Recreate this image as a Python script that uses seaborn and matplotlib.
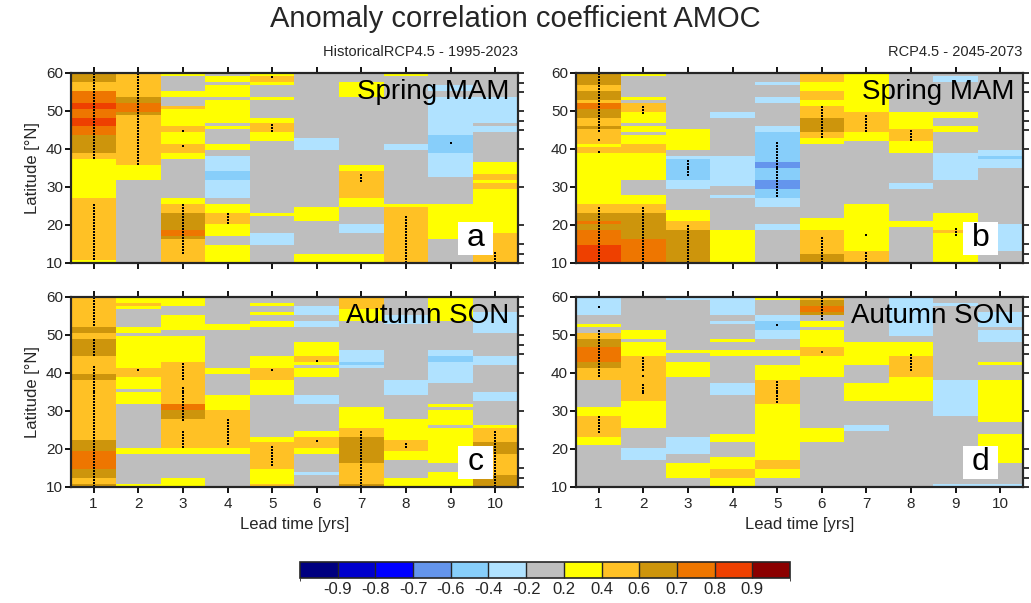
import numpy as np
import pandas as pd
import matplotlib
matplotlib.use("Agg")
import matplotlib.pyplot as plt
import seaborn as sns
from matplotlib.colors import ListedColormap, BoundaryNorm
from matplotlib.patches import Rectangle
import matplotlib.colorbar as mcolorbar

sns.set_style("white")
plt.rcParams["font.family"] = ["Liberation Sans", "DejaVu Sans"]

# ---------------- data ----------------
leads = [1, 2, 3, 4, 5, 6, 7, 8, 9, 10]
lat_ticks = [60, 50, 40, 30, 20, 10]
right_ticks = [60, 57.5, 55, 50, 47.5, 45, 40, 30, 20, 15, 12.5, 10]
cb_bounds = [-1.0, -0.9, -0.8, -0.7, -0.6, -0.4, -0.2, 0.2, 0.4, 0.6, 0.7, 0.8, 0.9, 1.0]
cb_labels = ["-0.9", "-0.8", "-0.7", "-0.6", "-0.4", "-0.2", "0.2", "0.4", "0.6", "0.7", "0.8", "0.9"]
cb_colors = ["#000080", "#0000CD", "#0000FF", "#6495ED", "#87CEFA", "#B0E2FF", "#BEBEBE",
             "#FFFF00", "#FFC125", "#CD950C", "#EE7600", "#EE4000", "#8B0000"]
# class code -> representative ACC value
class_values = {"c": -0.65, "l": -0.5, "p": -0.3, ".": 0.0, "y": 0.3,
                "o": 0.5, "d": 0.65, "r": 0.75, "R": 0.85}

# each column: tokens "<class><southern latitude>" from 60N southwards
spring_hist = [
    "d58 o55.5 r52.5 R50.5 r48.5 R46 r43.5 d39 o37.5 y32 .31.5 y27 o11 y10",
    "o54 d52 r49.5 d49 o35.5 y31.5 .10",
    "y59 .55.5 y54 .51.5 o50.5 y46 o44.5 y41 o39 y37.5 .27 y26 o23.5 d18.5 r17 d16 o10",
    ".59 y58 .56.5 y54 .53 y47 .46 y45 .41 y40 .38.5 p34 l31.5 p27 .25.5 y23 o20 y17 .15 y10",
    "y59 o58 y56.5 .54 y53 .48 y47 o44.5 y42 .23.5 y22.5 .17.5 p15 .10",
    ".43 p40 .25 y21 .12.5 y10",
    ".58 y54 .36 y34 o27 y24.5 .20 p17.5 .12.5 y10",
    "y59 .41 p40 .26 y24.5 o10",
    ".56.5 p55.5 .53.5 p43.5 l39 p33 .25.5 y16.5 .10",
    ".53.5 p47 .46 p44.5 .36.5 y33.5 o32 y31 o29.5 y17.5 o10",
]
spring_hist_sig = [
    [(60, 37.5), (25.5, 11)],
    [(60, 36.5)],
    [(44.6, 44.6), (40.6, 40.6), (25, 12.5)],
    [(22.7, 20.5)],
    [(58.5, 58.5), (46.7, 44.6)],
    [],
    [(33, 31.6)],
    [(21.8, 10.3)],
    [(41.5, 41.5)],
    [(13, 10.3)],
]

spring_rcp = [
    "d56.5 o55.5 d53 o52 r50.5 d48.5 o46 d45 o41 y40.5 o39 y26 o23 d21 r20 d18.5 r15 R10",
    "y59 .54 y53 .52 o49.5 y47 .46 y44.5 .43.5 y41 o39 y32 .28 y26 o23 d16 r10",
    ".45 y40 .38.5 p37.5 l32 p29.5 .24 y21 o18.5 d10",
    ".49.5 p48.5 .38.5 p30 .28 p27 .18.5 y10",
    ".58 p56.5 .54 p52 .46 p44.5 l36.5 c35 l32 c29.5 l27 p24.5 .20 p18.5 .10",
    "o58 y55.5 o53 y51.5 o48.5 d44.5 o42.5 y41 .22 y18.5 o12.5 d10",
    "y49.5 o44.5 y42 .26 y13 o10",
    ".49.5 y45 o42 y39 .31 p29.5 .21 y19 .10",
    ".59 p58 .49.5 y48.5 .46 y44.5 .39 p32 .23 y18.5 o17.5 y10",
    ".40 p38.5 l37.5 p35 .20 p13 .10",
]
spring_rcp_sig = [
    [(60, 44.5), (42.7, 42.7), (39.6, 39.6), (24.7, 10.4)],
    [(50.7, 49.3), (24.7, 10.4)],
    [(36.7, 33.4), (19.9, 10.4)],
    [],
    [(41.8, 27.6)],
    [(50.7, 43.3), (16.9, 10.4)],
    [(48.6, 44.5), (17.6, 17.6), (12.9, 10.4)],
    [(44.7, 42.4)],
    [(18.7, 17.6)],
    [],
]

autumn_hist = [
    "o52 d51 o49 d44.5 o40 d38 o22.5 d19.5 r14.5 d12 o11 d10",
    "y58.5 o58 y57 .52 y51 .49.5 y41 o39 y36 .35 y32 .20.5 y18.5 .11 y10",
    "y57.5 .55 y51.5 .50 y43 o31.5 r30 d28 o20 y18.5 .12 y10",
    ".53 y51.5 .41 y40 .34 y30 o20.5 y18.5 .10",
    ".58.5 y58 .56 y55 .54 y52 .44 y41 o38.5 y34 .23 y22 o14.5 y11 o10",
    ".57.5 p55 .54 p52 .48 y44 o43 y42 .41 y39 .34 p32 .25 y23.5 o20.5 y18.5 .14 p13 .10",
    "o57 y54 .46 p43 l42 p41 .31 y25.5 o23 d16 o11 d10",
    ".55.5 p53 .38 p34 .28 y22.5 o19.5 y17 .12.5 y10",
    "y54 .46 p44 l43 p37.5 .31.5 y31 .30 y26.5 .25.5 y16 .14 y10",
    ".56 p51 .50 p49.5 .44.5 p42 .35 p33 .26.5 y25.5 o22 d18.5 o13 d10",
]
autumn_hist_sig = [
    [(60, 52.5), (48.5, 44.5), (41.5, 10.3)],
    [(40.5, 40.5)],
    [(42.4, 38.2), (36.5, 27.5), (24.5, 20.2)],
    [(27.6, 21.1)],
    [(40.5, 40.5), (20.7, 16)],
    [(43.3, 43.3), (22.5, 22.5)],
    [(24.7, 10.3)],
    [(56.5, 54.5), (21.4, 20.2)],
    [],
    [(24.7, 10.3)],
]

autumn_rcp = [
    "p55.5 .53 y52 .51 o49 d47 r43 d41 o38.5 y38 .31 y29 o23 y21 .10",
    ".51.5 y49 .48 y44 o33 y26 .20.5 p17 .10",
    "p59 .46 y45 .43 y39 .23 p18.5 .16 y12 .10",
    "p55 .54 p53 .49 y48 .46 y44 .37 p34 .24 y22 .18 y14.5 o12 y10",
    "y59 .55 p54 l51.5 p49 .46 y44.5 .42 y38 o31.5 y17 o15 y12 .10",
    "o59 d58 r56 d55 .54 y52 .51.5 y47 o44.5 y39 .26 y22 .10",
    ".48 y42 .37 y33 .26.5 p25 .10",
    "p50 .48 y44.5 o39 y32.5 .10",
    ".58.5 p57.5 .38 p29 .10.5 p10",
    ".56 p52 .51.5 p48.5 .43 y42 .38.5 y27 .24 y16 .10.5 p10",
]
autumn_rcp_sig = [
    [(57.5, 57.5), (50.7, 39.1), (28.7, 24.3)],
    [(43.6, 41.2), (39.6, 39.6), (36.6, 34.4)],
    [],
    [],
    [(52.5, 52.5), (37.6, 32)],
    [(60, 54.2), (45.5, 45.5)],
    [],
    [(44.7, 41.2)],
    [],
    [],
]

titles = ["Spring MAM", "Spring MAM", "Autumn SON", "Autumn SON"]
letters = ["a", "b", "c", "d"]

# ---------------- grid helpers ----------------
NROW = 64
dlat = 50.0 / NROW
lat_c = 60.0 - (np.arange(NROW) + 0.5) * dlat


def expand(cols):
    grid = np.zeros((NROW, len(cols)))
    for j, s in enumerate(cols):
        prev = 60.0
        segs = []
        for tok in s.split():
            bot = float(tok[1:])
            segs.append((prev, bot, class_values[tok[0]]))
            prev = bot
        for i, c in enumerate(lat_c):
            for top, bot, v in segs:
                if bot <= c <= top:
                    grid[i, j] = v
                    break
    return pd.DataFrame(grid, index=np.round(lat_c, 2), columns=leads)


def sig_points(sig):
    xs, ys = [], []
    for j, ranges in enumerate(sig):
        for top, bot in ranges:
            sel = np.where((lat_c >= bot - dlat / 2) & (lat_c < top + dlat / 2))[0]
            for i in sel:
                xs.append(j + 0.5)
                ys.append(i + 0.5)
    return xs, ys


def lat_pos(lat):
    return (60.0 - np.asarray(lat, dtype=float)) / 50.0 * NROW


cmap = ListedColormap(cb_colors)
norm = BoundaryNorm(cb_bounds, cmap.N)

# ---------------- figure ----------------
W, H = 1031, 603
fig = plt.figure(figsize=(W / 100, H / 100), dpi=100)

pw, ph = 446.4, 190.0
lefts = [71.3, 576.3]
tops = [73.0, 297.0]
panels = [(spring_hist, spring_hist_sig), (spring_rcp, spring_rcp_sig),
          (autumn_hist, autumn_hist_sig), (autumn_rcp, autumn_rcp_sig)]

for k, (cols, sig) in enumerate(panels):
    r, c = divmod(k, 2)
    ax = fig.add_axes([lefts[c] / W, 1 - (tops[r] + ph) / H, pw / W, ph / H])
    df = expand(cols)
    sns.heatmap(df, ax=ax, cmap=cmap, norm=norm, cbar=False,
                xticklabels=False, yticklabels=False, linewidths=0, rasterized=True)
    xs, ys = sig_points(sig)
    ax.scatter(xs, ys, s=3.0, c="black", marker="s", linewidths=0, zorder=3)

    for s in ax.spines.values():
        s.set_visible(True)
        s.set_linewidth(1.5)
        s.set_color("black")

    ax.set_xticks(np.arange(len(leads)) + 0.5)
    ax.set_yticks(lat_pos(lat_ticks))
    ax.set_yticklabels([str(v) for v in lat_ticks], fontsize=11)
    ax.tick_params(axis="both", direction="out", length=4, width=1.3, color="black")
    ax.tick_params(axis="x", top=True, bottom=True)
    ax.tick_params(axis="y", left=True, right=False, pad=2)
    if r == 1:
        ax.set_xticklabels([str(v) for v in leads], fontsize=11)
        ax.set_xlabel("Lead time [yrs]", fontsize=12, labelpad=4)
    else:
        ax.set_xticklabels([])
    if c == 0:
        ax.set_ylabel("Latitude [\u00b0N]", fontsize=12, labelpad=4)
    ax.set_xlim(0, len(leads))
    ax.set_ylim(NROW, 0)

    ax2 = ax.twinx()
    ax2.set_ylim(NROW, 0)
    ax2.set_yticks(lat_pos(right_ticks))
    ax2.set_yticklabels([])
    ax2.tick_params(axis="y", direction="out", length=4, width=1.3)
    for s in ax2.spines.values():
        s.set_linewidth(1.5)

    ax.text(0.982, 0.862, titles[k], transform=ax.transAxes, ha="right",
            va="baseline", fontsize=20, color="black", zorder=5)
    ax.add_patch(Rectangle((0.867, 0.04), 0.078, 0.178, transform=ax.transAxes,
                           facecolor="white", edgecolor="none", zorder=5))
    ax.text(0.906, 0.129, letters[k], transform=ax.transAxes, ha="center",
            va="center", fontsize=23, color="black", zorder=6)

fig.text(0.5, 1 - 19 / H, "Anomaly correlation coefficient AMOC", ha="center",
         va="center", fontsize=21)
fig.text(517.7 / W, 1 - 52 / H, "HistoricalRCP4.5 - 1995-2023", ha="right",
         va="center", fontsize=10.5)
fig.text(1022.7 / W, 1 - 52 / H, "RCP4.5 - 2045-2073", ha="right",
         va="center", fontsize=10.5)

cax = fig.add_axes([300 / W, (H - 578.3) / H, 490 / W, 16 / H])
cb = mcolorbar.ColorbarBase(cax, cmap=cmap, norm=norm, boundaries=cb_bounds,
                            spacing="uniform", orientation="horizontal",
                            ticks=cb_bounds[1:-1], drawedges=True)
cb.set_ticklabels(cb_labels)
cb.ax.tick_params(length=0, labelsize=12, pad=3)
cb.outline.set_linewidth(1.2)
cb.dividers.set_linewidth(1.0)

fig.savefig("out.png", dpi=100)
